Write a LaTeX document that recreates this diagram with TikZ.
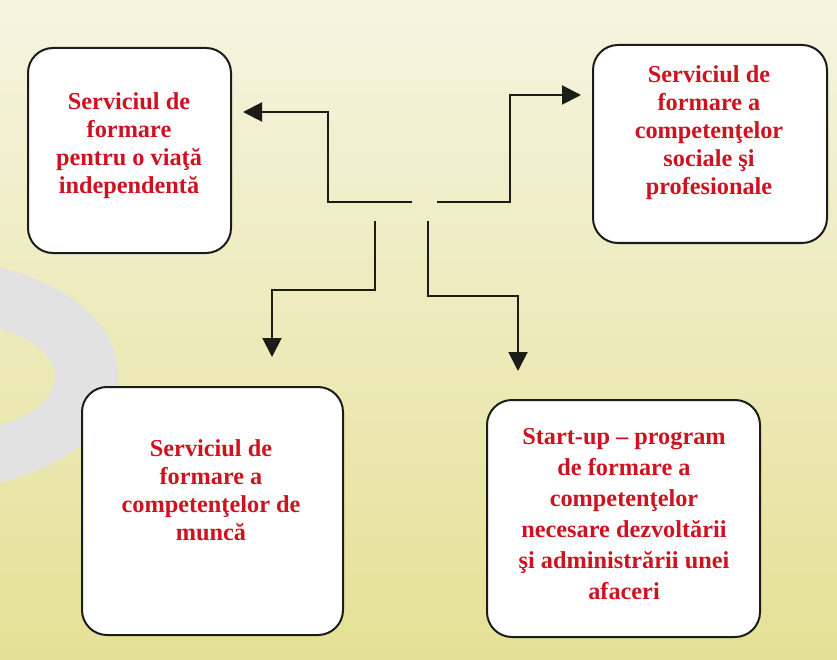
\documentclass[tikz,border=0pt]{standalone}
\usepackage{fontspec}
\setmainfont{Liberation Serif}
\usetikzlibrary{arrows.meta}
\definecolor{bgtop}{RGB}{246,244,224}
\definecolor{bgbot}{RGB}{228,225,150}
\definecolor{ringgrey}{RGB}{226,226,226}
\definecolor{txtred}{RGB}{205,18,32}
\definecolor{linec}{RGB}{28,28,24}
\begin{document}
\begin{tikzpicture}[x=1pt,y=-1pt,
  box/.style={draw=linec, line width=2pt, fill=white, rounded corners=25pt, inner sep=0pt},
  lbl/.style={font=\fontsize{24.3}{28}\selectfont\bfseries, text=txtred, align=center, inner sep=0pt},
  lblwide/.style={lbl, font=\fontsize{24.3}{31}\selectfont\bfseries},
  arr/.style={draw=linec, line width=2pt, miter limit=10, -{Triangle[length=19pt,width=19pt]}}]
\useasboundingbox (0,0) rectangle (837,660);
\clip (0,0) rectangle (837,660);
\shade[top color=bgtop, bottom color=bgbot] (0,0) rectangle (837,660);
% grey ring
\fill[ringgrey, even odd rule] (-60,375) ellipse [x radius=178pt, y radius=114pt]
  (-50,377) ellipse [x radius=105pt, y radius=55pt];
% boxes
\node[box, minimum width=203pt, minimum height=205pt] (b1) at (129.5,150.5) {};
\node[box, minimum width=234pt, minimum height=198pt] (b2) at (710,144) {};
\node[box, minimum width=261pt, minimum height=248pt] (b3) at (212.5,511) {};
\node[box, minimum width=273pt, minimum height=237pt] (b4) at (623.5,518.5) {};
% labels
\node[lbl] (t1) at (129,146) {Serviciul de\\formare\\pentru o viaţă\\independentă};
\node[lbl] (t2) at (709,133) {Serviciul de\\formare a\\competenţelor\\sociale şi\\profesionale};
\node[lbl] (t3) at (211,490) {Serviciul de\\formare a\\competenţelor de\\muncă};
\node[lblwide] (t4) at (624,514) {Start-up – program\\de formare a\\competenţelor\\necesare dezvoltării\\şi administrării unei\\afaceri};
% hub ends and tips
\coordinate (h1) at (412,202);
\coordinate (h2) at (437,202);
\coordinate (h3) at (375,221);
\coordinate (h4) at (428,221);
\coordinate (p1) at (243,112);
\coordinate (p2) at (581,95);
\coordinate (p3) at (272,357);
\coordinate (p4) at (518,371);
% connectors
\draw[arr] (h1) -- (328,202) -- (328,112) -- (p1);
\draw[arr] (h2) -- (510,202) -- (510,95) -- (p2);
\draw[arr] (h3) -- (375,290) -- (272,290) -- (p3);
\draw[arr] (h4) -- (428,296) -- (518,296) -- (p4);
\end{tikzpicture}
\end{document}
